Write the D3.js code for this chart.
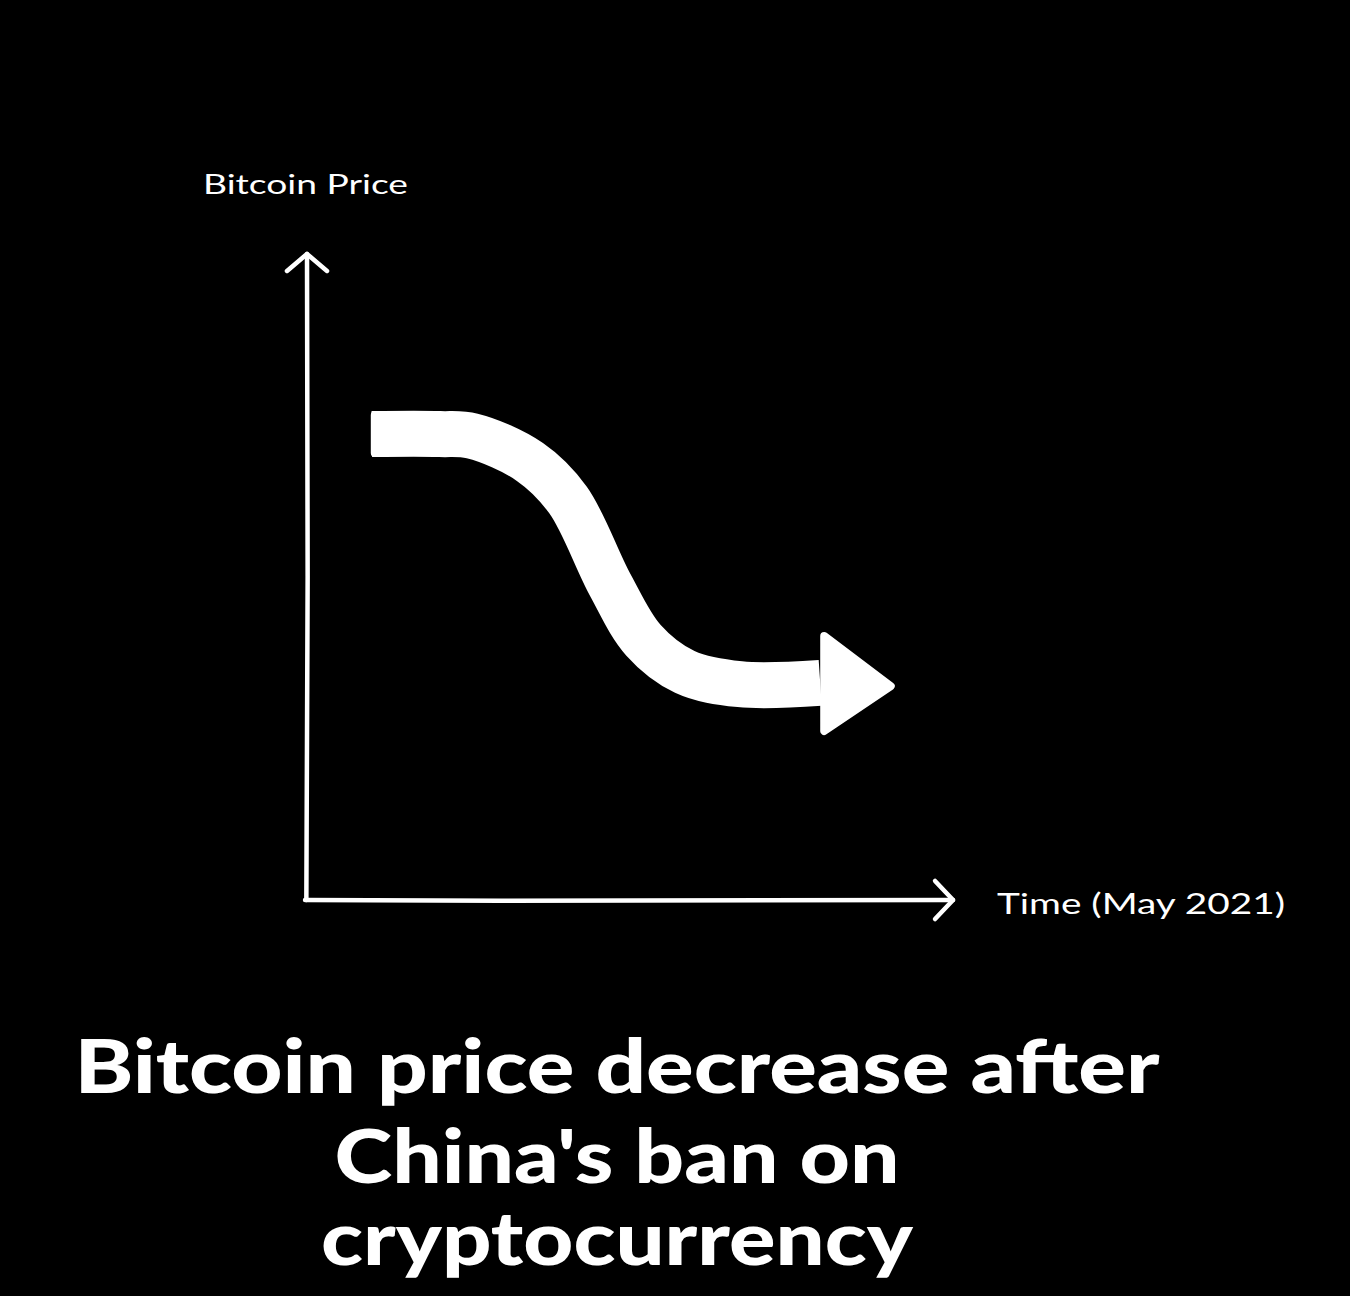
<!DOCTYPE html>
<html>
<head>
<meta charset="utf-8">
<script src="https://cdn.jsdelivr.net/npm/d3@7"></script>
<style>
  html, body { margin: 0; padding: 0; background: #000; }
  svg { display: block; }
</style>
</head>
<body>
<svg id="chart" width="1350" height="1296"></svg>
<script>
// ---- data (abstract units: time 0..100, price 0..100) ----
const timeVals  = [10.0, 20.5, 25.5, 34.4, 40.3, 46.8, 51.9, 58.3, 66.8, 79.2];
const priceVals = [71.9, 71.9, 71.6, 67.6, 61.7, 48.6, 40.1, 35.2, 33.3, 33.5];
const arrowTipTime = 90.7;
const arrowTipPrice = 33.0;
const yAxisLabel = "Bitcoin Price";
const xAxisLabel = "Time (May 2021)";
const titleLines = ["Bitcoin price decrease after", "China's ban on", "cryptocurrency"];

const svg = d3.select("#chart");
svg.append("rect").attr("width", 1350).attr("height", 1296).attr("fill", "#000");

const x = d3.scaleLinear().domain([0, 100]).range([307, 955]);
const y = d3.scaleLinear().domain([0, 100]).range([900, 252]);

const white = "#ffffff";
const hand = "'Lato', 'Open Sans', sans-serif";

// ---- axes (hand-drawn style lines) ----
const g = svg.append("g");
// y axis
g.append("path")
  .attr("d", d3.line()([[x(-0.1), y(0)], [x(0.1), y(50)], [x(0), y(99.7)]]))
  .attr("fill", "none").attr("stroke", white).attr("stroke-width", 4.5).attr("stroke-linecap", "round");
g.append("path")
  .attr("d", d3.line()([[x(0) - 20, y(99.7) + 17], [x(0), y(99.7)], [x(0) + 20, y(99.7) + 17]]))
  .attr("fill", "none").attr("stroke", white).attr("stroke-width", 4.5)
  .attr("stroke-linecap", "round").attr("stroke-linejoin", "round");
// x axis
g.append("path")
  .attr("d", d3.line()([[x(-0.3), y(0)], [x(30), y(-0.1)], [x(99.7), y(0)]]))
  .attr("fill", "none").attr("stroke", white).attr("stroke-width", 4.5).attr("stroke-linecap", "round");
g.append("path")
  .attr("d", d3.line()([[x(99.7) - 18, y(0) - 19], [x(99.7), y(0)], [x(99.7) - 18, y(0) + 19]]))
  .attr("fill", "none").attr("stroke", white).attr("stroke-width", 4.5)
  .attr("stroke-linecap", "round").attr("stroke-linejoin", "round");

// ---- trend arrow ----
const pts = timeVals.map((t, i) => [x(t), y(priceVals[i])]);
g.append("path")
  .attr("d", d3.line().curve(d3.curveCatmullRom.alpha(0.5))(pts))
  .attr("fill", "none").attr("stroke", white).attr("stroke-width", 46)
  .attr("stroke-linecap", "butt").attr("stroke-linejoin", "round");
// rounded start cap corners
const p0 = pts[0];
g.append("rect")
  .attr("x", p0[0] - 1).attr("y", p0[1] - 23).attr("width", 20).attr("height", 46)
  .attr("rx", 4).attr("fill", white);

const endX = pts[pts.length - 1][0];
const endY = pts[pts.length - 1][1];
const tip = [x(arrowTipTime), y(arrowTipPrice)];
g.append("path")
  .attr("d", d3.line()([[endX + 4, endY - 47], [tip[0] - 4, tip[1]], [endX + 4, endY + 48]]) + "Z")
  .attr("fill", white).attr("stroke", white).attr("stroke-width", 8).attr("stroke-linejoin", "round");

// ---- labels ----
svg.append("text")
  .attr("x", 203).attr("y", 194)
  .attr("font-family", hand).attr("font-size", 27).attr("fill", white)
  .attr("textLength", 205).attr("lengthAdjust", "spacingAndGlyphs")
  .text(yAxisLabel);

svg.append("text")
  .attr("x", 997).attr("y", 914)
  .attr("font-family", hand).attr("font-size", 28).attr("fill", white)
  .attr("textLength", 288).attr("lengthAdjust", "spacingAndGlyphs")
  .text(xAxisLabel);

// ---- title ----
const titleWidths = [1085, 565, 592];
const titleBase = [1093, 1183, 1265];
titleLines.forEach((line, i) => {
  svg.append("text")
    .attr("x", 617).attr("y", titleBase[i])
    .attr("text-anchor", "middle")
    .attr("font-family", hand).attr("font-weight", 900).attr("font-size", 74).attr("fill", white)
    .attr("textLength", titleWidths[i]).attr("lengthAdjust", "spacingAndGlyphs")
    .text(line);
});
</script>
</body>
</html>
